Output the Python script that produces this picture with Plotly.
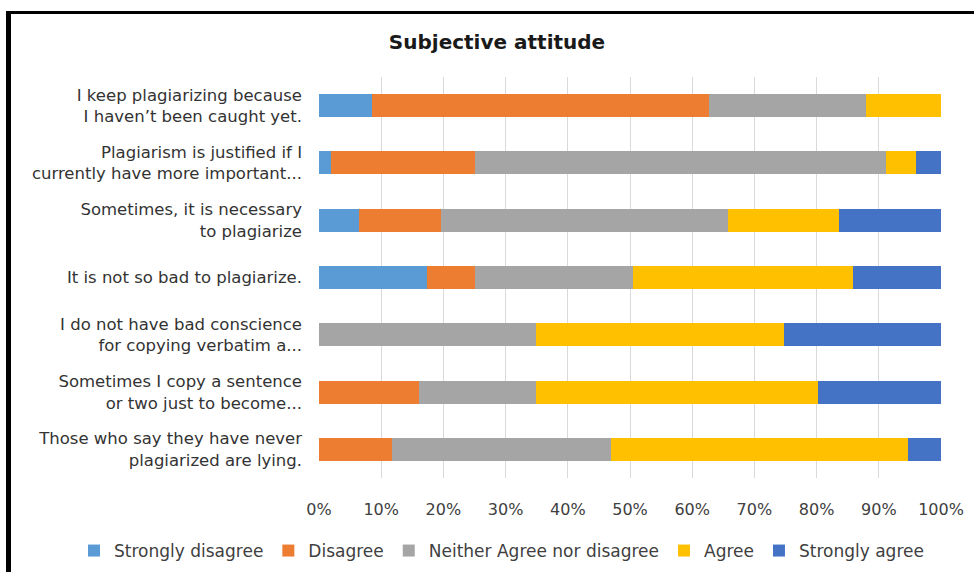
import plotly.graph_objects as go

# Survey statements (top to bottom)
statements = [
    "I keep plagiarizing because<br>I haven\u2019t been caught yet.",
    "Plagiarism is justified if I<br>currently have more important...",
    "Sometimes, it is necessary<br>to plagiarize",
    "It is not so bad to plagiarize.",
    "I do not have bad conscience<br>for copying verbatim a...",
    "Sometimes I copy a sentence<br>or two just to become...",
    "Those who say they have never<br>plagiarized are lying.",
]

# Share of responses (%) per answer
strongly_disagree = [8.5, 1.9, 6.4, 17.4, 0.0, 0.0, 0.0]
disagree = [54.2, 23.1, 13.2, 7.7, 0.0, 16.1, 11.8]
neither = [25.2, 66.2, 46.2, 25.4, 34.9, 18.8, 35.2]
agree = [12.1, 4.7, 17.8, 35.3, 39.9, 45.3, 47.7]
strongly_agree = [0.0, 4.1, 16.4, 14.2, 25.2, 19.8, 5.3]

x_ticks = list(range(0, 101, 10))
x_tick_text = [f"{v}%" for v in x_ticks]

series = [
    ("Strongly disagree", strongly_disagree, "#5B9BD5"),
    ("Disagree", disagree, "#ED7D31"),
    ("Neither Agree nor disagree", neither, "#A5A5A5"),
    ("Agree", agree, "#FFC000"),
    ("Strongly agree", strongly_agree, "#4472C4"),
]

W, H = 974, 572
L, R, T, B = 319, 941, 77, 478
FONT = "DejaVu Sans, sans-serif"

fig = go.Figure()
for name, vals, color in series:
    fig.add_trace(go.Bar(
        y=statements, x=vals, name=name, orientation="h",
        marker=dict(color=color, line=dict(width=0)),
    ))


def px_x(v):
    return (v - L) / (R - L)


def px_y(v):
    return (B - v) / (B - T)


fig.update_layout(
    width=W, height=H,
    margin=dict(l=L, r=W - R, t=T, b=H - B, autoexpand=False),
    barmode="stack",
    bargap=0.6,
    paper_bgcolor="white",
    plot_bgcolor="white",
    font=dict(family=FONT, size=16, color="#404040"),
    title=dict(
        text="<b>Subjective attitude</b>",
        x=497 / W, xref="container", xanchor="center",
        y=1 - 42 / H, yref="container", yanchor="middle",
        font=dict(family=FONT, size=20, color="#1a1a1a"),
    ),
    xaxis=dict(
        range=[0, 100], tickmode="array", tickvals=x_ticks, ticktext=x_tick_text,
        showgrid=True, gridcolor="#D9D9D9", gridwidth=1,
        zeroline=False, showline=False, ticks="",
        ticklabelstandoff=20,
        tickfont=dict(size=16, color="#404040"),
    ),
    yaxis=dict(
        autorange="reversed", showgrid=False, zeroline=False,
        showline=False, ticks="", ticklabelstandoff=16,
        tickfont=dict(size=16.5, color="#333333"),
    ),
    legend=dict(
        orientation="h",
        x=px_x(74), xanchor="left",
        y=px_y(551), yanchor="middle",
        font=dict(size=17, color="#404040"),
        itemwidth=30, traceorder="normal",
        bgcolor="rgba(0,0,0,0)",
    ),
    shapes=[
        dict(type="line", xref="paper", yref="paper",
             x0=px_x(8.5), x1=px_x(8.5), y0=px_y(11), y1=px_y(H + 40),
             line=dict(color="black", width=5)),
        dict(type="line", xref="paper", yref="paper",
             x0=px_x(6), x1=px_x(W + 40), y0=px_y(12.5), y1=px_y(12.5),
             line=dict(color="black", width=3)),
    ],
)

fig.write_html("out.html")
